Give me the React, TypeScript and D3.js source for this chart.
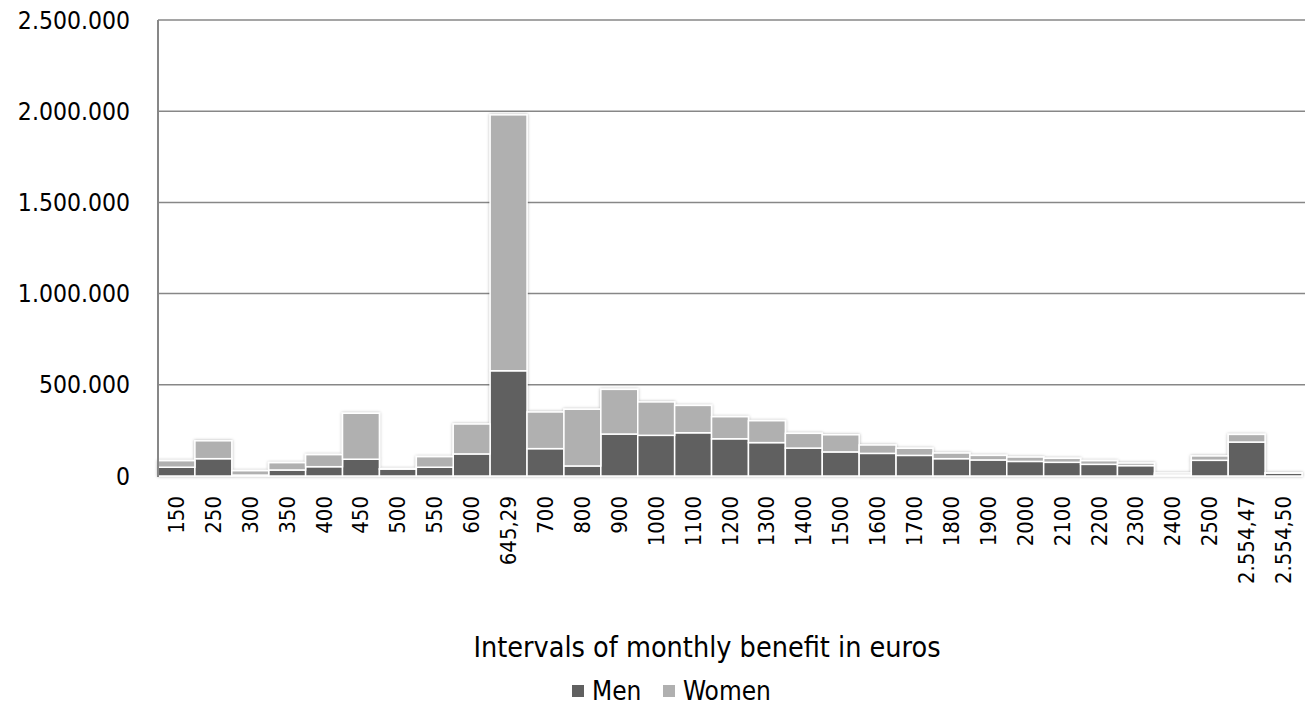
import React from "react";
import * as d3 from "d3";

const categories = [
  "150", "250", "300", "350", "400", "450", "500", "550", "600", "645,29",
  "700", "800", "900", "1000", "1100", "1200", "1300", "1400", "1500", "1600",
  "1700", "1800", "1900", "2000", "2100", "2200", "2300", "2400", "2500",
  "2.554,47", "2.554,50",
];
const men = [
  48000, 95000, 5000, 33000, 51000, 92000, 38000, 48000, 121000, 577000,
  150000, 55000, 230000, 223000, 237000, 204000, 183000, 153000, 132000, 124000,
  113000, 95000, 88000, 80000, 75000, 64000, 57000, 6000, 86000,
  186000, 16000,
];
const women = [
  36000, 98000, 24000, 40000, 66000, 252000, 2000, 58000, 164000, 1403000,
  201000, 311000, 245000, 183000, 150000, 121000, 120000, 81000, 94000, 46000,
  39000, 31000, 25000, 24000, 22000, 20000, 14000, 10000, 24000,
  42000, 1000,
];
const yTicks = [0, 500000, 1000000, 1500000, 2000000, 2500000];
const seriesNames = ["Men", "Women"];
const seriesColors = ["#606060", "#b0b0b0"];
const xTitle = "Intervals of monthly benefit in euros";

const W = 1305;
const H = 705;
const M = { left: 158, right: 3, top: 20, bottom: 229 };
const FONT = "'DejaVu Sans Condensed', 'DejaVu Sans', sans-serif";

const fmt = (v: number) =>
  v === 0 ? "0" : d3.format(",")(v).replace(/,/g, ".");

export default function App() {
  const x = d3
    .scaleBand<string>()
    .domain(categories)
    .range([M.left, W - M.right])
    .paddingInner(0)
    .paddingOuter(0);
  const y = d3
    .scaleLinear()
    .domain([0, 2500000])
    .range([H - M.bottom, M.top]);

  const rows = categories.map((c, i) => ({ c, men: men[i], women: women[i] }));
  const stacked = d3.stack<any>().keys(["men", "women"])(rows);

  const y0 = y(0);

  return (
    <svg
      width={W}
      height={H}
      style={{ position: "absolute", left: 0, top: 0, background: "#fff" }}
      fontFamily={FONT}
    >
      <defs>
        <filter id="soft" x="-20%" y="-20%" width="140%" height="140%">
          <feDropShadow dx="0" dy="0" stdDeviation="1.6" floodColor="#000" floodOpacity="0.3" />
        </filter>
        <filter id="axisShadow" x="-5%" y="-50%" width="110%" height="300%">
          <feDropShadow dx="0" dy="1.5" stdDeviation="1.2" floodColor="#000" floodOpacity="0.3" />
        </filter>
      </defs>

      {/* gridlines */}
      {yTicks.slice(1).map((t) => (
        <line
          key={t}
          x1={M.left}
          x2={W}
          y1={y(t)}
          y2={y(t)}
          stroke="#878787"
          strokeWidth={1.5}
        />
      ))}

      {/* y tick labels */}
      {yTicks.map((t) => (
        <text
          key={t}
          x={130}
          y={y(t)}
          textAnchor="end"
          dominantBaseline="central"
          fontSize={24.5}
          fill="#000"
        >
          {fmt(t)}
        </text>
      ))}

      {/* bars */}
      <g filter="url(#soft)">
        {stacked.map((layer, si) =>
          layer.map((d, i) => (
            <rect
              key={`${si}-${i}`}
              x={x(categories[i])!}
              y={y(d[1])}
              width={x.bandwidth()}
              height={Math.max(0, y(d[0]) - y(d[1]))}
              fill={seriesColors[si]}
              stroke="#fff"
              strokeWidth={1.5}
            />
          ))
        )}
      </g>

      {/* axes */}
      <g filter="url(#axisShadow)">
        <line x1={M.left} x2={W - M.right} y1={y0} y2={y0} stroke="#878787" strokeWidth={2} />
      </g>
      <line x1={M.left} x2={M.left} y1={M.top} y2={y0 + 1} stroke="#878787" strokeWidth={2} />

      {/* x tick labels */}
      {categories.map((c) => {
        const cx = x(c)! + x.bandwidth() / 2;
        return (
          <text
            key={c}
            transform={`translate(${cx},${y0 + 20}) rotate(-90)`}
            textAnchor="end"
            dominantBaseline="central"
            fontSize={22}
            fill="#000"
          >
            {c}
          </text>
        );
      })}

      {/* axis title */}
      <text x={707} y={657} textAnchor="middle" fontSize={28.5} fill="#000">
        {xTitle}
      </text>

      {/* legend */}
      {seriesNames.map((n, i) => {
        const lx = i === 0 ? 572 : 663;
        return (
          <g key={n}>
            <rect x={lx} y={685} width={12} height={12} fill={seriesColors[i]} />
            <text x={lx + 20} y={700} fontSize={26} fill="#000">
              {n}
            </text>
          </g>
        );
      })}
    </svg>
  );
}
